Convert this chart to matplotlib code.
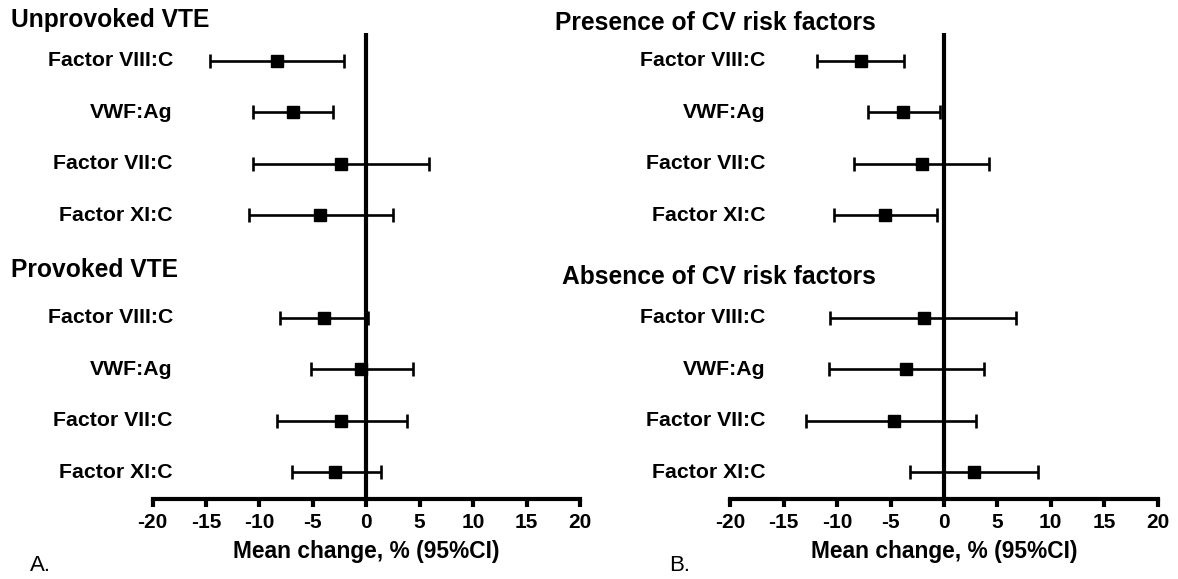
import numpy as np
import matplotlib
matplotlib.use("Agg")
import matplotlib.pyplot as plt

plt.rcParams["font.family"] = ["Liberation Sans", "DejaVu Sans"]

# row labels (same order in every group)
markers = ["Factor VIII:C", "VWF:Ag", "Factor VII:C", "Factor XI:C"]

# Panel A: mean change and 95% CI
unprov_mean = [-8.4, -6.9, -2.4, -4.3]
unprov_lo = [-14.6, -10.6, -10.6, -11.0]
unprov_hi = [-2.1, -3.1, 5.9, 2.5]

prov_mean = [-4.0, -0.5, -2.4, -2.9]
prov_lo = [-8.1, -5.2, -8.4, -7.0]
prov_hi = [0.2, 4.4, 3.8, 1.4]

# Panel B
pres_mean = [-7.8, -3.8, -2.1, -5.5]
pres_lo = [-11.9, -7.1, -8.4, -10.3]
pres_hi = [-3.7, -0.4, 4.2, -0.7]

abs_mean = [-1.9, -3.6, -4.7, 2.8]
abs_lo = [-10.7, -10.8, -12.9, -3.2]
abs_hi = [6.7, 3.7, 3.0, 8.8]

xticks = [-20, -15, -10, -5, 0, 5, 10, 15, 20]
xlabel = "Mean change, % (95%CI)"

fig = plt.figure(figsize=(11.78, 5.79), dpi=100)
ax_a = fig.add_axes([0.1296, 0.1385, 0.3627, 0.8045])
ax_b = fig.add_axes([0.6200, 0.1385, 0.3627, 0.8045])


def draw_panel(ax, groups, label_x):
    ax.axvline(0, color="black", lw=3, zorder=1)
    for g, (mean, lo, hi) in enumerate(groups):
        rows = np.arange(len(mean)) + g * 5
        mean = np.array(mean)
        err = [mean - np.array(lo), np.array(hi) - mean]
        ax.errorbar(mean, rows, xerr=err, fmt="s", color="black", ms=8,
                    elinewidth=1.9, capsize=4.8, capthick=1.9, zorder=3)
        for r, name in zip(rows, markers):
            ax.text(label_x, r, name, transform=ax.get_yaxis_transform(),
                    ha="right", va="center", fontsize=15.3, fontweight="bold")
    ax.set_xlim(-20, 20)
    ax.set_ylim(8.52, -0.54)
    ax.set_xticks(xticks)
    ax.set_xticklabels([str(t) for t in xticks], fontsize=15, fontweight="bold")
    ax.set_yticks([])
    for s in ["left", "right", "top"]:
        ax.spines[s].set_visible(False)
    ax.spines["bottom"].set_linewidth(3)
    ax.tick_params(axis="x", length=6, width=3, pad=4)
    ax.set_xlabel(xlabel, fontsize=16.4, fontweight="bold", labelpad=6)


draw_panel(ax_a, [(unprov_mean, unprov_lo, unprov_hi),
                  (prov_mean, prov_lo, prov_hi)], 0.0475)
draw_panel(ax_b, [(pres_mean, pres_lo, pres_hi),
                  (abs_mean, abs_lo, abs_hi)], 0.082)

hdr = dict(fontsize=17.7, fontweight="bold", ha="left", va="center")
fig.text(0.0093, 0.9655, "Unprovoked VTE", **hdr)
fig.text(0.0093, 0.5337, "Provoked VTE", **hdr)
fig.text(0.4711, 0.9603, "Presence of CV risk factors", **hdr)
fig.text(0.4771, 0.5216, "Absence of CV risk factors", **hdr)

fig.text(0.0255, 0.024, "A.", fontsize=16, ha="left", va="center")
fig.text(0.568, 0.024, "B.", fontsize=16, ha="left", va="center")

fig.savefig("out.png", dpi=100)
